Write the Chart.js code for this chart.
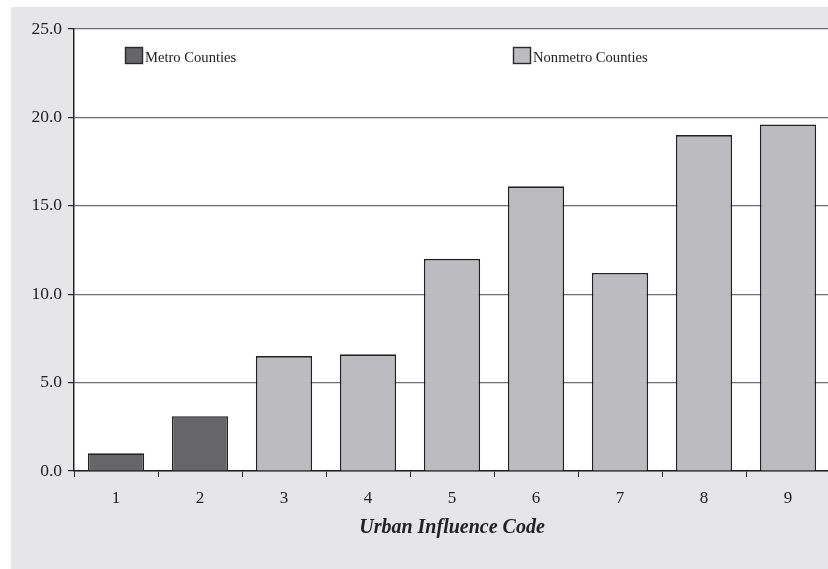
<!DOCTYPE html>
<html>
<head>
<meta charset="utf-8">
<script src="https://cdn.jsdelivr.net/npm/chart.js@4/dist/chart.umd.min.js"></script>
<style>
  html, body { margin: 0; padding: 0; background: #ffffff; overflow: hidden; }
  #wrap { width: 828px; height: 569px; position: relative; overflow: hidden; }
  #c { position: absolute; left: 0; top: 0; }
</style>
</head>
<body>
<div id="wrap"><canvas id="c" width="830" height="569"></canvas></div>
<script>
const categories = ['1', '2', '3', '4', '5', '6', '7', '8', '9'];
const metroValues = [1.0, 3.1, null, null, null, null, null, null, null];
const nonmetroValues = [null, null, 6.5, 6.6, 12.0, 16.1, 11.2, 19.0, 19.6];
const seriesLabels = ['Metro Counties', 'Nonmetro Counties'];
const xTitle = 'Urban Influence Code';

const FONT = "'Liberation Serif', 'Times New Roman', serif";

const bgPlugin = {
  id: 'bg',
  beforeDraw(chart) {
    const ctx = chart.ctx;
    const a = chart.chartArea;
    ctx.save();
    ctx.fillStyle = '#ffffff';
    ctx.fillRect(0, 0, chart.width, chart.height);
    ctx.fillStyle = '#e6e6e8';
    ctx.fillRect(11, 7, chart.width - 11, chart.height - 7);
    ctx.fillStyle = '#ffffff';
    ctx.fillRect(a.left, a.top, a.right - a.left, a.bottom - a.top);
    ctx.restore();
  }
};

const legendPlugin = {
  id: 'customLegend',
  afterDraw(chart) {
    const ctx = chart.ctx;
    const positions = [[125, 47], [513, 47]];
    ctx.save();
    chart.data.datasets.forEach((ds, i) => {
      const [x, y] = positions[i];
      ctx.fillStyle = ds.backgroundColor;
      ctx.fillRect(x, y, 17, 16);
      ctx.strokeStyle = '#2a2a2a';
      ctx.lineWidth = 1.4;
      ctx.strokeRect(x + 0.5, y + 0.5, 17, 16);
      ctx.fillStyle = '#222222';
      ctx.font = '14.6px ' + FONT;
      ctx.textAlign = 'left';
      ctx.textBaseline = 'alphabetic';
      ctx.fillText(ds.label, x + 20, y + 15);
    });
    ctx.restore();
  }
};

new Chart(document.getElementById('c'), {
  type: 'bar',
  data: {
    labels: categories,
    datasets: [
      { label: seriesLabels[0], data: metroValues, backgroundColor: '#666668', borderColor: '#222222', borderWidth: 1.6 },
      { label: seriesLabels[1], data: nonmetroValues, backgroundColor: '#bcbcc0', borderColor: '#222222', borderWidth: 1.6 }
    ]
  },
  options: {
    responsive: false,
    animation: false,
    devicePixelRatio: 1,
    layout: { padding: { top: 29, right: 0, left: 0, bottom: 0 } },
    datasets: { bar: { barPercentage: 0.67, categoryPercentage: 1.0 } },
    plugins: { legend: { display: false }, tooltip: { enabled: false } },
    scales: {
      x: {
        stacked: true,
        grid: { display: true, drawOnChartArea: false, drawTicks: true, tickLength: 6, tickColor: '#222222', offset: true },
        border: { display: true, color: '#222222', width: 1.5 },
        ticks: { color: '#222222', font: { family: FONT, size: 17 }, padding: 11 },
        title: { display: true, text: xTitle, color: '#222222', font: { family: FONT, size: 20, style: 'italic', weight: 'bold' }, padding: { top: 6, bottom: 29 } },
        afterFit(scale) { scale.height = 98; }
      },
      y: {
        stacked: false,
        min: 0, max: 25,
        ticks: { stepSize: 5, color: '#222222', font: { family: FONT, size: 17.5 }, padding: 6, callback: v => v.toFixed(1) },
        grid: { color: '#6e6e6e', lineWidth: 1.2, drawTicks: true, tickLength: 6, tickColor: '#222222' },
        border: { display: true, color: '#222222', width: 1.5 },
        afterFit(scale) { scale.width = 74; }
      }
    }
  },
  plugins: [bgPlugin, legendPlugin]
});
</script>
</body>
</html>
